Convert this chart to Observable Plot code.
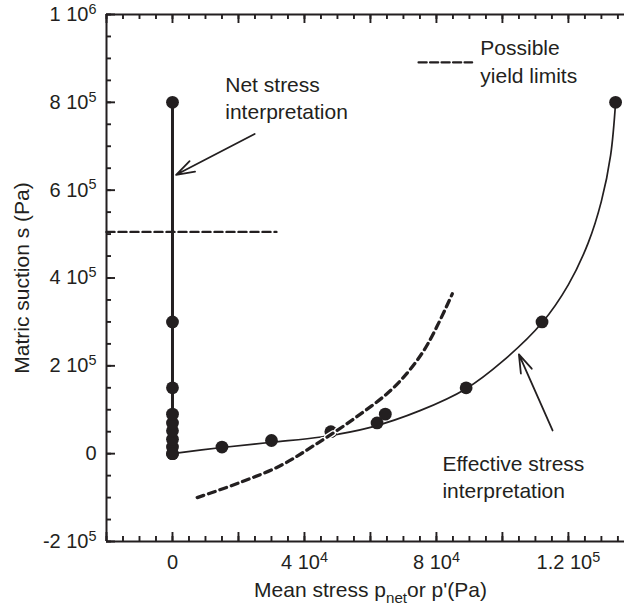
<!DOCTYPE html>
<html>
<head>
<meta charset="utf-8">
<script src="https://cdn.jsdelivr.net/npm/d3@7"></script>
<script src="https://cdn.jsdelivr.net/npm/@observablehq/plot@0.6"></script>
<style>
  html, body { margin: 0; padding: 0; background: #fff; }
  #chart svg { display: block; }
</style>
</head>
<body>
<div id="chart"></div>
<script>
// ---- Data ----
// Net stress interpretation (p_net = 0 for every suction step)
const netP = [0, 0, 0, 0, 0, 0, 0, 0, 0];
const netS = [0, 15000, 33000, 52000, 70000, 90000, 150000, 300000, 800000];

// Effective stress interpretation (measured points)
const effP = [0, 15000, 30000, 48000, 62000, 64500, 89000, 112000, 134300];
const effS = [0, 15000, 30000, 50000, 70000, 90000, 150000, 300000, 800000];

// Fitted effective-stress curve
const effCurveP = [0, 15000, 30000, 45000, 60000, 75000, 89000, 100000, 112000, 120000, 126000, 130000, 132800, 134300];
const effCurveS = [0, 14000, 26000, 38000, 60000, 98000, 148000, 210000, 298000, 385000, 480000, 575000, 680000, 800000];

// Possible yield limits (dashed)
const yieldCurveP = [7500, 20700, 32800, 42900, 55000, 67100, 76200, 84800];
const yieldCurveS = [-100000, -65000, -27000, 18700, 79500, 151000, 235000, 364000];
const yieldNetP = [-20000, 31500];
const yieldNetS = [505000, 505000];

// Legend sample line
const legendP = [74600, 90800];
const legendS = [891000, 891000];

// Annotation texts and arrows
const noteText = ["Net stress\ninterpretation", "Possible\nyield limits", "Effective stress\ninterpretation"];
const noteP = [16000, 93300, 81800];
const noteS = [763000, 845000, -102000];
const arrowFromP = [24900, 115200];
const arrowFromS = [728000, 52800];
const arrowToP = [1100, 105000];
const arrowToS = [635000, 226000];

// Axes
const xTickValues = [0, 40000, 80000, 120000];
const xTickLabels = ["0", "4 10^4", "8 10^4", "1.2 10^5"];
const yTickValues = [-200000, 0, 200000, 400000, 600000, 800000, 1000000];
const yTickLabels = ["-2 10^5", "0", "2 10^5", "4 10^5", "6 10^5", "8 10^5", "1 10^6"];
const xTitle = "Mean stress p_{net}or p'(Pa)";
const yTitle = "Matric suction s (Pa)";

const xMinor = d3.range(-20000, 137001, 5000);
const xMajor = d3.range(-20000, 137001, 20000);
const yMinor = d3.range(-200000, 1000001, 50000);
const yMajor = d3.range(-200000, 1000001, 200000);

// ---- Build tables ----
const zip = (xs, ys) => xs.map((x, i) => ({x, y: ys[i]}));
const netData = zip(netP, netS);
const effData = zip(effP, effS);
const effCurve = zip(effCurveP, effCurveS);
const yieldCurve = zip(yieldCurveP, yieldCurveS);
const yieldNet = zip(yieldNetP, yieldNetS);
const legendLine = zip(legendP, legendS);
const notes = noteText.map((t, i) => ({text: t, x: noteP[i], y: noteS[i]}));
const arrows = arrowFromP.map((x1, i) => ({x1, y1: arrowFromS[i], x2: arrowToP[i], y2: arrowToS[i]}));
const xLab = new Map(xTickValues.map((v, i) => [v, xTickLabels[i]]));
const yLab = new Map(yTickValues.map((v, i) => [v, yTickLabels[i]]));

const W = 624, H = 607;
const M = {left: 106, right: 0, top: 14, bottom: 66};
const frameW = W - M.left - M.right;
const frameH = H - M.top - M.bottom;
const ink = "#231f20";
const dash = "7,5";
const tw = 1.9;
const majorLen = 9, minorLen = 5;

const chart = Plot.plot({
  width: W,
  height: H,
  marginLeft: M.left,
  marginRight: M.right,
  marginTop: M.top,
  marginBottom: M.bottom,
  x: {domain: [-20000, 137000], axis: null},
  y: {domain: [-200000, 1000000], axis: null},
  style: {fontFamily: "'Liberation Sans', Arial, Helvetica, sans-serif", color: ink, background: "white", fontSize: "20px"},
  marks: [
    // frame (left, top, bottom)
    Plot.ruleX([-20000], {stroke: ink, strokeWidth: 2}),
    Plot.ruleY([-200000, 1000000], {stroke: ink, strokeWidth: 2}),
    // inward ticks: bottom, top, left
    Plot.tickX(xMinor, {x: d => d, insetTop: frameH - minorLen, stroke: ink, strokeWidth: tw}),
    Plot.tickX(xMajor, {x: d => d, insetTop: frameH - majorLen, stroke: ink, strokeWidth: tw}),
    Plot.tickX(xMinor, {x: d => d, insetBottom: frameH - minorLen, stroke: ink, strokeWidth: tw}),
    Plot.tickX(xMajor, {x: d => d, insetBottom: frameH - majorLen, stroke: ink, strokeWidth: tw}),
    Plot.tickY(yMinor, {y: d => d, insetRight: frameW - minorLen, stroke: ink, strokeWidth: tw}),
    Plot.tickY(yMajor, {y: d => d, insetRight: frameW - majorLen, stroke: ink, strokeWidth: tw}),
    // tick labels
    Plot.axisX({anchor: "bottom", ticks: xTickValues, tickFormat: d => xLab.get(d), tickSize: 0, tickPadding: 13, label: null, fill: ink, fontSize: 20}),
    Plot.axisY({anchor: "left", ticks: yTickValues, tickFormat: d => yLab.get(d), tickSize: 0, tickPadding: 10, label: null, fill: ink, fontSize: 20}),
    // axis titles
    Plot.text([xTitle], {frameAnchor: "bottom", textAnchor: "middle", dx: 5, dy: 55, lineAnchor: "bottom", fontSize: 21, fill: ink}),
    Plot.text([yTitle], {frameAnchor: "left", textAnchor: "middle", dx: -84, rotate: -90, lineAnchor: "middle", fontSize: 21, fill: ink}),
    // net stress interpretation
    Plot.line(netData, {x: "x", y: "y", stroke: ink, strokeWidth: 3}),
    // effective stress curve
    Plot.line(effCurve, {x: "x", y: "y", stroke: ink, strokeWidth: 1.7, curve: "catmull-rom"}),
    // points
    Plot.dot(netData, {x: "x", y: "y", r: 6.4, fill: ink}),
    Plot.dot(effData, {x: "x", y: "y", r: 6.4, fill: ink}),
    // yield limits (with a white halo like the original)
    Plot.line(yieldCurve, {x: "x", y: "y", stroke: "white", strokeWidth: 6, strokeDasharray: dash, curve: "catmull-rom"}),
    Plot.line(yieldCurve, {x: "x", y: "y", stroke: ink, strokeWidth: 3.3, strokeDasharray: dash, curve: "catmull-rom"}),
    Plot.line(yieldNet, {x: "x", y: "y", stroke: ink, strokeWidth: 2.4, strokeDasharray: "8,4"}),
    Plot.line(legendLine, {x: "x", y: "y", stroke: ink, strokeWidth: 2.4, strokeDasharray: "8,3.5"}),
    // annotations
    Plot.text(notes, {x: "x", y: "y", text: "text", textAnchor: "start", lineAnchor: "bottom", lineHeight: 1.29, fontSize: 21, fill: ink}),
    Plot.arrow(arrows, {x1: "x1", y1: "y1", x2: "x2", y2: "y2", stroke: ink, strokeWidth: 1.8, headLength: 16, headAngle: 36})
  ]
});

document.getElementById("chart").appendChild(chart);

// Superscripts in tick labels, subscript in x title
d3.select(chart).selectAll("text").each(function() {
  const el = this;
  if (el.querySelector("tspan")) return;
  const t = el.textContent;
  const m = t.match(/^(.*) 10\^(-?\d+)$/);
  if (m) {
    el.textContent = m[1] + " 10";
    const sup = document.createElementNS("http://www.w3.org/2000/svg", "tspan");
    sup.setAttribute("dy", "-0.5em");
    sup.setAttribute("font-size", "0.72em");
    sup.textContent = m[2];
    el.appendChild(sup);
    return;
  }
  const s = t.match(/^(.*)_\{(.*)\}(.*)$/);
  if (s) {
    el.textContent = s[1];
    const sub = document.createElementNS("http://www.w3.org/2000/svg", "tspan");
    sub.setAttribute("dy", "6");
    sub.setAttribute("font-size", "0.72em");
    sub.textContent = s[2];
    el.appendChild(sub);
    const rest = document.createElementNS("http://www.w3.org/2000/svg", "tspan");
    rest.setAttribute("dy", "-6");
    rest.textContent = s[3];
    el.appendChild(rest);
  }
});
</script>
</body>
</html>
